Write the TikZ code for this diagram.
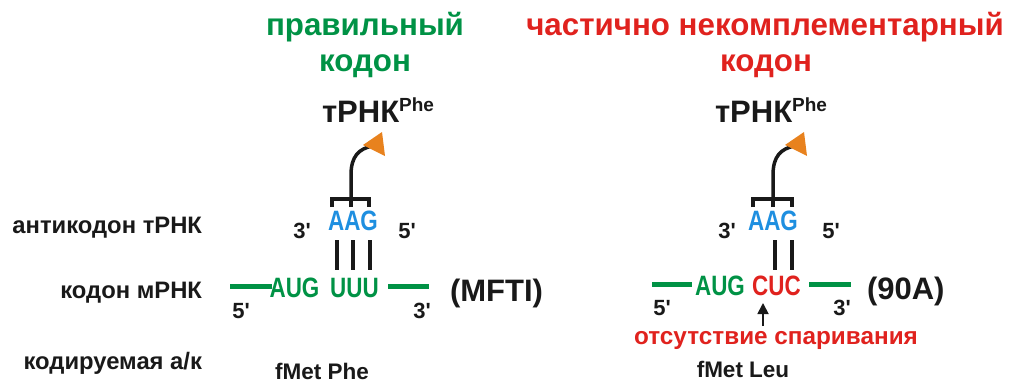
\documentclass[tikz,border=0pt]{standalone}
\usepackage{fontspec}
\usetikzlibrary{arrows.meta}
\setmainfont{Liberation Sans}
\newfontfamily\nar{Liberation Sans}[FakeStretch=0.8]
\definecolor{mgreen}{RGB}{0,146,69}
\definecolor{mred}{RGB}{224,34,30}
\definecolor{mblue}{RGB}{30,143,224}
\definecolor{morange}{RGB}{232,130,30}
\definecolor{mblack}{RGB}{25,25,25}
\newcommand{\fs}[1]{\fontsize{#1}{#1}\selectfont}
\newcommand{\pr}{\textquotesingle}
\tikzset{
  txt/.style={inner sep=0pt, outer sep=0pt, font=\bfseries, text=mblack},
  title/.style={txt, font=\fs{31.3}\bfseries},
  lab/.style={txt, anchor=base east, font=\fs{23.8}\bfseries},
  base/.style={txt, anchor=base, font=\nar\fs{28}\bfseries},
  prime/.style={txt, anchor=base, font=\fs{22}\bfseries},
  trna/.style={txt, anchor=base west, font=\fs{31}\bfseries},
  mrna/.style={mgreen, line width=5pt},
  pair/.style={mblack, line width=3.5pt},
  brk/.style={mblack, line width=3.5pt},
}
\begin{document}
\begin{tikzpicture}[x=1pt,y=-1pt]
\useasboundingbox (0,0) rectangle (1010,383);

% titles
\node[title, text=mgreen, anchor=base] (t1a) at (365,35) {правильный};
\node[title, text=mgreen, anchor=base] (t1b) at (365,71) {кодон};
\node[title, text=mred, anchor=base] (t2a) at (765,35) {частично некомплементарный};
\node[title, text=mred, anchor=base] (t2b) at (766,71) {кодон};

% row labels
\node[lab] (l1) at (202,233) {антикодон тРНК};
\node[lab] (l2) at (202,298) {кодон мРНК};
\node[lab] (l3) at (202,369) {кодируемая а/к};

% ---------- left panel ----------
\node[trna] (trL) at (322,122) {тРНК\raisebox{11pt}{\fs{19}Phe}};
\node[base, text=mblue] (acL) at (353,230) {AAG};
\node[prime] (p3L) at (302,238) {3\pr};
\node[prime] (p5L) at (407,238) {5\pr};
\node[base, text=mgreen] (augL) at (294.5,297) {AUG};
\node[base, text=mgreen] (uuuL) at (354.5,297) {UUU};
\node[prime] (q5L) at (241,318) {5\pr};
\node[prime] (q3L) at (422,318) {3\pr};
\node[txt, anchor=base west, font=\fs{31}\bfseries] (mfti) at (450,301) {(MFTI)};
\node[txt, anchor=base, font=\fs{22.5}\bfseries] (aaL) at (322,379) {fMet Phe};

\coordinate (mL1) at (230,286); \coordinate (mL2) at (272,286);
\coordinate (mL3) at (388,286); \coordinate (mL4) at (429,286);
\draw[mrna] (mL1) -- (mL2);
\draw[mrna] (mL3) -- (mL4);

\foreach \x [count=\i] in {337,353,370}{
  \coordinate (pLa\i) at (\x,240); \coordinate (pLb\i) at (\x,270);
  \draw[pair] (pLa\i) -- (pLb\i);
}
% bracket
\coordinate (bL1) at (332,207); \coordinate (bL2) at (351,207); \coordinate (bL3) at (369,207);
\coordinate (bLc) at (351,199);
\draw[brk] (bL1) -- (332,199) -- (369,199) -- (bL3);
\draw[brk] (bL2) -- (bLc);
\coordinate (aL) at (372,146);
\draw[brk] (bLc) -- (351,175) .. controls (351,156) and (359,149) .. (aL);
\fill[morange] (363,145) -- (382,132) -- (385,156) -- cycle;

% ---------- right panel ----------
\node[trna] (trR) at (715,122) {тРНК\raisebox{11pt}{\fs{19}Phe}};
\node[base, text=mblue] (acR) at (773,230) {AAG};
\node[prime] (p3R) at (727,238) {3\pr};
\node[prime] (p5R) at (831,238) {5\pr};
\node[base, text=mgreen] (augR) at (720,295) {AUG};
\node[base, text=mred] (cucR) at (776.5,295) {CUC};
\node[prime] (q5R) at (662,315) {5\pr};
\node[prime] (q3R) at (842,315) {3\pr};
\node[txt, anchor=base west, font=\fs{31}\bfseries] (n90a) at (867,299) {(90A)};
\node[txt, anchor=base, text=mred, font=\fs{24.3}\bfseries] (miss) at (776,344) {отсутствие спаривания};
\node[txt, anchor=base, font=\fs{22.5}\bfseries] (aaR) at (743,377) {fMet Leu};

\coordinate (mR1) at (652,284); \coordinate (mR2) at (692,284);
\coordinate (mR3) at (809,284); \coordinate (mR4) at (851,284);
\draw[mrna] (mR1) -- (mR2);
\draw[mrna] (mR3) -- (mR4);

\foreach \x [count=\i] in {775,792}{
  \coordinate (pRa\i) at (\x,240); \coordinate (pRb\i) at (\x,270);
  \draw[pair] (pRa\i) -- (pRb\i);
}
\coordinate (bR1) at (753,207); \coordinate (bR2) at (773,207); \coordinate (bR3) at (792,207);
\coordinate (bRc) at (773,199);
\draw[brk] (bR1) -- (753,199) -- (792,199) -- (bR3);
\draw[brk] (bR2) -- (bRc);
\coordinate (aR) at (794,146);
\draw[brk] (bRc) -- (773,175) .. controls (773,156) and (781,149) .. (aR);
\fill[morange] (785,145) -- (804,132) -- (807,156) -- cycle;

% small arrow
\coordinate (sa1) at (763,326); \coordinate (sa2) at (763,303);
\draw[mblack, line width=1.8pt, -{Triangle[length=11pt,width=11pt]}] (sa1) -- (sa2);
\end{tikzpicture}
\end{document}
